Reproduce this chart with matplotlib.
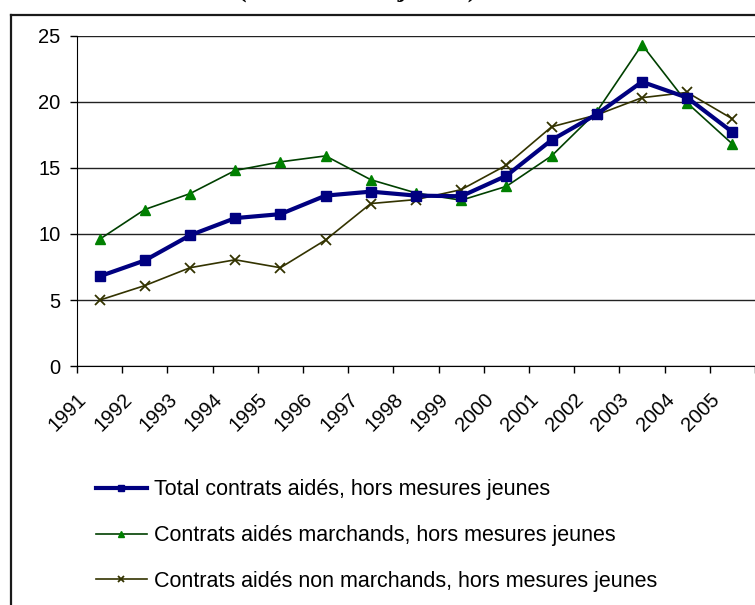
import matplotlib
matplotlib.use("Agg")
import matplotlib.pyplot as plt
from matplotlib.transforms import ScaledTranslation
from matplotlib.lines import Line2D

years = ["1991", "1992", "1993", "1994", "1995", "1996", "1997", "1998",
         "1999", "2000", "2001", "2002", "2003", "2004", "2005"]
total = [6.8, 8.0, 9.9, 11.2, 11.5, 12.9, 13.2, 12.9, 12.85, 14.4, 17.1, 19.05, 21.5, 20.3, 17.7]
marchands = [9.6, 11.85, 13.05, 14.8, 15.45, 15.9, 14.1, 13.1, 12.55, 13.6, 15.9, 19.25, 24.3, 19.9, 16.8]
non_marchands = [5.0, 6.1, 7.45, 8.05, 7.45, 9.55, 12.3, 12.6, 13.35, 15.2, 18.1, 19.0, 20.3, 20.7, 18.7]
labels = ["Total contrats aidés, hors mesures jeunes",
          "Contrats aidés marchands, hors mesures jeunes",
          "Contrats aidés non marchands, hors mesures jeunes"]
yticks = [0, 5, 10, 15, 20, 25]

plt.rcParams['font.family'] = ['Liberation Sans', 'DejaVu Sans']

W, H = 755, 605
fig = plt.figure(figsize=(W / 100, H / 100), dpi=100)
fig.patch.set_facecolor("white")

# outer chart border (left and top visible)
fig.add_artist(Line2D([11 / W, 11 / W], [0, 1 - 15 / H], transform=fig.transFigure,
                      color="#1a1a1a", lw=1.6))
fig.add_artist(Line2D([11 / W, 1], [1 - 15 / H, 1 - 15 / H], transform=fig.transFigure,
                      color="#1a1a1a", lw=1.6))

# title, cropped at the top edge as in the reference
fig.text(357 / W, 1 + 3 / H, "(hors mesures jeunes)", ha="center", va="baseline",
         fontsize=18.5, fontweight="bold", family="Liberation Serif")

left, right = 77 / W, 1.0
bottom, top = 1 - 366.3 / H, 1 - 35.5 / H
ax = fig.add_axes([left, bottom, right - left, top - bottom])

x = list(range(len(years)))
ax.plot(x, total, color="#000080", lw=3.0, marker="s", ms=7.5, mfc="#000080",
        mec="#000080", label=labels[0], zorder=4)
ax.plot(x, marchands, color="#004000", lw=1.2, marker="^", ms=7.5, mfc="#008000",
        mec="#008000", label=labels[1], zorder=3)
ax.plot(x, non_marchands, color="#333300", lw=1.2, marker="x", ms=7.5, mew=1.3,
        mec="#333300", label=labels[2], zorder=3)

ax.set_xlim(-0.5, len(years) - 0.5)
ax.set_ylim(0, 25)
ax.set_yticks(yticks)
ax.set_yticklabels([str(v) for v in yticks], fontsize=14.5)
ax.yaxis.grid(True, color="#222222", lw=1.0)
ax.set_axisbelow(True)
ax.tick_params(axis="y", direction="out", length=5, width=1, pad=7, color="black")

ax.set_xticks(x)
ax.set_xticks([i - 0.5 for i in range(len(years) + 1)], minor=True)
ax.tick_params(axis="x", which="major", length=0, pad=10)
ax.tick_params(axis="x", which="minor", direction="out", length=5, width=1, color="black")
ax.set_xticklabels(years, fontsize=14.5, rotation=45, ha="right", va="center",
                   rotation_mode="anchor")
offset = ScaledTranslation(-16 / 100, -16 / 100, fig.dpi_scale_trans)
for lab in ax.get_xticklabels():
    lab.set_transform(lab.get_transform() + offset)

for s in ["top", "right"]:
    ax.spines[s].set_visible(False)
ax.spines["left"].set_color("black")
ax.spines["bottom"].set_color("black")

leg = fig.legend(loc="upper left", bbox_to_anchor=(77 / W, 1 - 460 / H),
                 frameon=False, fontsize=15.5, labelspacing=1.15,
                 handlelength=2.33, handletextpad=0.33, markerscale=0.6)

fig.savefig("out.png", dpi=100, facecolor="white")
